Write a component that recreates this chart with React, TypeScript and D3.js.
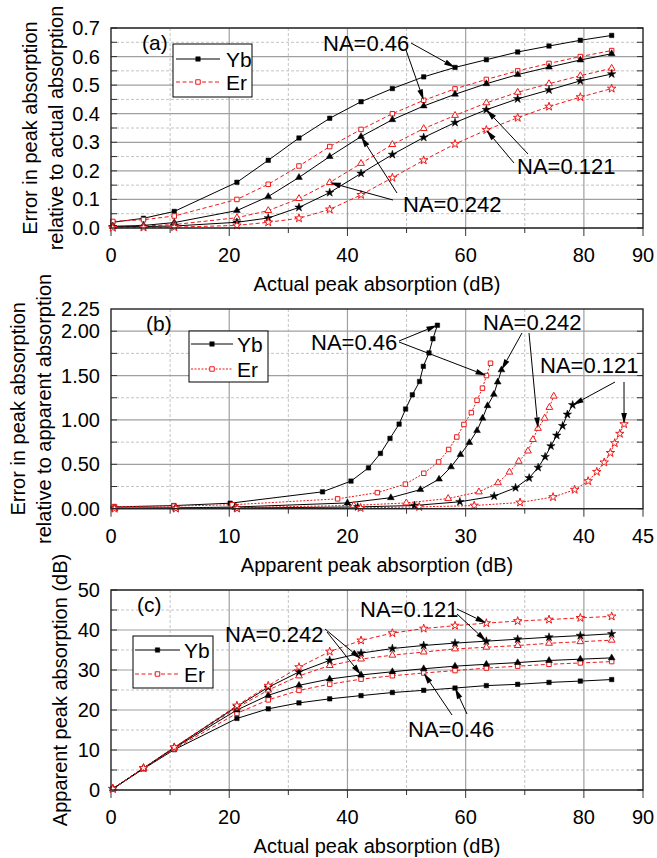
import React from 'react';
import * as d3 from 'd3';

const FONT = '"Liberation Sans", Arial, Helvetica, sans-serif';

// ---------- data ----------
const actualAbs = [0.3, 5.5, 10.7, 21.3, 26.6, 31.8, 37, 42.3, 47.6, 52.9, 58.2, 63.5, 68.8, 74.1, 79.4, 84.7];

// (a) error relative to actual absorption
const errActYb046 = [0.020, 0.034, 0.058, 0.160, 0.237, 0.315, 0.384, 0.442, 0.488, 0.529, 0.562, 0.589, 0.616, 0.637, 0.657, 0.674];
const errActEr046 = [0.023, 0.029, 0.042, 0.100, 0.153, 0.217, 0.285, 0.345, 0.400, 0.447, 0.487, 0.520, 0.550, 0.576, 0.600, 0.621];
const errActYb0242 = [0.006, 0.009, 0.019, 0.061, 0.110, 0.177, 0.250, 0.320, 0.379, 0.427, 0.468, 0.505, 0.537, 0.563, 0.588, 0.610];
const errActEr0242 = [0.005, 0.007, 0.012, 0.036, 0.061, 0.103, 0.159, 0.226, 0.292, 0.348, 0.394, 0.438, 0.475, 0.505, 0.533, 0.559];
const errActYb0121 = [0.004, 0.005, 0.007, 0.020, 0.035, 0.072, 0.124, 0.191, 0.257, 0.317, 0.369, 0.414, 0.452, 0.483, 0.515, 0.539];
const errActEr0121 = [0.001, 0.002, 0.003, 0.009, 0.020, 0.034, 0.065, 0.116, 0.176, 0.237, 0.294, 0.343, 0.386, 0.425, 0.458, 0.488];

// apparent peak absorption (dB)
const appYb046 = [0.29, 5.31, 10.08, 17.89, 20.30, 21.78, 22.79, 23.60, 24.37, 24.92, 25.49, 26.10, 26.42, 26.90, 27.23, 27.61];
const appEr046 = [0.29, 5.34, 10.25, 19.17, 22.53, 24.90, 26.46, 27.71, 28.56, 29.25, 29.85, 30.48, 30.96, 31.42, 31.76, 32.10];
const appYb0242 = [0.30, 5.45, 10.50, 20.00, 23.67, 26.17, 27.75, 28.76, 29.56, 30.31, 30.96, 31.43, 31.85, 32.38, 32.71, 33.03];
const appEr0242 = [0.30, 5.46, 10.57, 20.53, 24.98, 28.52, 31.12, 32.74, 33.70, 34.49, 35.27, 35.69, 36.12, 36.68, 37.08, 37.45];
const appYb0121 = [0.30, 5.47, 10.63, 20.87, 25.67, 29.51, 32.41, 34.22, 35.37, 36.13, 36.72, 37.21, 37.70, 38.20, 38.60, 39.05];
const appEr0121 = [0.30, 5.49, 10.67, 21.11, 26.07, 30.72, 34.60, 37.39, 39.22, 40.36, 41.09, 41.72, 42.24, 42.61, 43.04, 43.40];

// (b) error relative to apparent absorption
const errAppYb046 = [0.020, 0.035, 0.062, 0.190, 0.311, 0.460, 0.623, 0.792, 0.953, 1.123, 1.283, 1.433, 1.604, 1.755, 1.915, 2.067];
const errAppEr046 = [0.024, 0.030, 0.044, 0.111, 0.181, 0.277, 0.399, 0.527, 0.667, 0.808, 0.949, 1.083, 1.222, 1.358, 1.500, 1.639];
const errAppYb0242 = [0.006, 0.009, 0.019, 0.065, 0.124, 0.215, 0.333, 0.471, 0.610, 0.745, 0.880, 1.020, 1.160, 1.288, 1.427, 1.564];
const errAppEr0242 = [0.005, 0.007, 0.012, 0.037, 0.065, 0.115, 0.189, 0.292, 0.412, 0.534, 0.650, 0.779, 0.905, 1.020, 1.141, 1.268];
const errAppYb0121 = [0.004, 0.005, 0.007, 0.020, 0.036, 0.078, 0.142, 0.236, 0.346, 0.464, 0.585, 0.706, 0.825, 0.934, 1.062, 1.169];
const errAppEr0121 = [0.001, 0.002, 0.003, 0.009, 0.020, 0.035, 0.070, 0.131, 0.214, 0.311, 0.416, 0.522, 0.629, 0.739, 0.845, 0.953];

// ticks
const xTicksActual = [0, 20, 40, 60, 80, 90];
const xMinorActual = [10, 30, 50, 70];
const xGridActual = [20, 40, 60, 80];
const yTicksA = [0, 0.1, 0.2, 0.3, 0.4, 0.5, 0.6, 0.7];
const yMinorA = [0.05, 0.15, 0.25, 0.35, 0.45, 0.55, 0.65];
const xTicksB = [0, 10, 20, 30, 40, 45];
const xMinorB = [5, 15, 25, 35];
const xGridB = [10, 20, 30, 40];
const yTicksB = [0, 0.5, 1.0, 1.5, 2.0, 2.25];
const yMajorB = [0, 0.5, 1.0, 1.5, 2.0];
const yMinorB = [0.25, 0.75, 1.25, 1.75];
const yTicksC = [0, 10, 20, 30, 40, 50];
const yMinorC = [5, 15, 25, 35, 45];

const legendNames = ['Yb', 'Er'];

// ---------- layout ----------
const L = 111;
const R = 643;
const RED = '#f01818';

type Shape = 'square' | 'triangle' | 'star';
type SeriesCfg = { xs: number[]; ys: number[]; er: boolean; shape: Shape };
type ArrowCfg = { fx: number; fy: number; s: number; i: number };
type LabelCfg = { text: string; x: number; y: number; arrows: ArrowCfg[] };

function symbolPath(shape: Shape) {
  const t = shape === 'square' ? d3.symbolSquare : shape === 'triangle' ? d3.symbolTriangle : d3.symbolStar;
  const size = shape === 'square' ? 20 : shape === 'triangle' ? 20 : 22;
  return d3.symbol().type(t).size(size)() as string;
}

function Arrow({ x1, y1, x2, y2 }: { x1: number; y1: number; x2: number; y2: number }) {
  const ang = Math.atan2(y2 - y1, x2 - x1);
  const hl = 11;
  const hw = 2.8;
  const bx = x2 - hl * Math.cos(ang);
  const by = y2 - hl * Math.sin(ang);
  const px = -Math.sin(ang) * hw;
  const py = Math.cos(ang) * hw;
  return (
    <g>
      <line x1={x1} y1={y1} x2={bx} y2={by} stroke="#000" strokeWidth={1} />
      <polygon points={`${x2},${y2} ${bx + px},${by + py} ${bx - px},${by - py}`} fill="#000" />
    </g>
  );
}

type PanelCfg = {
  top: number;
  bottom: number;
  xDomain: [number, number];
  yDomain: [number, number];
  xTicks: number[];
  xMinor: number[];
  xGrid: number[];
  yTicks: number[];
  yMajor: number[];
  yMinor: number[];
  yFmt: (v: number) => string;
  xTitle: string;
  yTitles: { text: string; x: number }[];
  tag: { text: string; x: number; y: number };
  legend: { x0: number; y0: number; x1: number; y1: number; lx0: number; lx1: number; tx: number; ys: number[] };
  erDash: string;
  series: SeriesCfg[];
  labels: LabelCfg[];
};

function Panel({ cfg }: { cfg: PanelCfg }) {
  const x = d3.scaleLinear().domain(cfg.xDomain).range([L, R]);
  const y = d3.scaleLinear().domain(cfg.yDomain).range([cfg.bottom, cfg.top]);
  const line = d3.line<number>();
  const midY = (cfg.top + cfg.bottom) / 2;
  return (
    <g>
      {/* grid */}
      {cfg.xMinor.map((v) => (
        <line key={'xm' + v} x1={x(v)} x2={x(v)} y1={cfg.top} y2={cfg.bottom} stroke="#c4c4c4" strokeDasharray="3,2" strokeWidth={1} />
      ))}
      {cfg.yMinor.map((v) => (
        <line key={'ym' + v} x1={L} x2={R} y1={y(v)} y2={y(v)} stroke="#c4c4c4" strokeDasharray="3,2" strokeWidth={1} />
      ))}
      {cfg.xGrid.map((v) => (
        <line key={'xg' + v} x1={x(v)} x2={x(v)} y1={cfg.top} y2={cfg.bottom} stroke="#a0a0a0" strokeWidth={1.2} />
      ))}
      {cfg.yMajor.map((v) => (
        <line key={'yg' + v} x1={L} x2={R} y1={y(v)} y2={y(v)} stroke="#a0a0a0" strokeWidth={1.2} />
      ))}
      {/* tick marks */}
      {cfg.yMajor.concat(cfg.yMinor).map((v) => (
        <g key={'yt' + v}>
          <line x1={L} x2={L + 6} y1={y(v)} y2={y(v)} stroke="#333" strokeWidth={1} />
          <line x1={R} x2={R - 6} y1={y(v)} y2={y(v)} stroke="#333" strokeWidth={1} />
        </g>
      ))}
      {cfg.xTicks.map((v) => (
        <line key={'xt' + v} x1={x(v)} x2={x(v)} y1={cfg.bottom} y2={cfg.bottom + 8} stroke="#333" strokeWidth={1} />
      ))}
      {cfg.xMinor.map((v) => (
        <line key={'xtm' + v} x1={x(v)} x2={x(v)} y1={cfg.bottom} y2={cfg.bottom + 5} stroke="#333" strokeWidth={1} />
      ))}
      {/* series lines */}
      {cfg.series.map((s, k) => (
        <path
          key={'l' + k}
          d={line(s.xs.map((xv, i) => [x(xv), y(s.ys[i])]) as any) as string}
          fill="none"
          stroke={s.er ? RED : '#000'}
          strokeWidth={1}
          strokeDasharray={s.er ? cfg.erDash : undefined}
        />
      ))}
      {/* markers */}
      {cfg.series.map((s, k) => {
        const p = symbolPath(s.shape);
        return (
          <g key={'m' + k}>
            {s.xs.map((xv, i) => (
              <path
                key={i}
                d={p}
                transform={`translate(${x(xv)},${y(s.ys[i])})`}
                fill={s.er ? '#fff' : '#000'}
                stroke={s.er ? RED : '#000'}
                strokeWidth={s.er ? 1 : 0.5}
              />
            ))}
          </g>
        );
      })}
      {/* frame */}
      <rect x={L} y={cfg.top} width={R - L} height={cfg.bottom - cfg.top} fill="none" stroke="#222" strokeWidth={1.4} />
      {/* tick labels */}
      {cfg.xTicks.map((v) => (
        <text key={'xl' + v} x={x(v)} y={cfg.bottom + 34} textAnchor="middle" fontSize={20}>
          {String(v)}
        </text>
      ))}
      {cfg.yTicks.map((v) => (
        <text key={'yl' + v} x={100} y={y(v) + 7} textAnchor="end" fontSize={20}>
          {cfg.yFmt(v)}
        </text>
      ))}
      {/* titles */}
      <text x={(L + R) / 2} y={cfg.bottom + 63} textAnchor="middle" fontSize={20}>
        {cfg.xTitle}
      </text>
      {cfg.yTitles.map((t) => (
        <text key={t.text} transform={`translate(${t.x},${midY}) rotate(-90)`} textAnchor="middle" dy="0.35em" fontSize={20}>
          {t.text}
        </text>
      ))}
      <text x={cfg.tag.x} y={cfg.tag.y} fontSize={21}>
        {cfg.tag.text}
      </text>
      {/* legend */}
      <rect x={cfg.legend.x0} y={cfg.legend.y0} width={cfg.legend.x1 - cfg.legend.x0} height={cfg.legend.y1 - cfg.legend.y0} fill="#fff" stroke="#000" strokeWidth={1} />
      {legendNames.map((n, k) => {
        const ly = cfg.legend.ys[k];
        const er = n === 'Er';
        const mx = (cfg.legend.lx0 + cfg.legend.lx1) / 2;
        return (
          <g key={n}>
            <line x1={cfg.legend.lx0} x2={cfg.legend.lx1} y1={ly} y2={ly} stroke={er ? RED : '#000'} strokeWidth={1} strokeDasharray={er ? cfg.erDash : undefined} />
            <path d={symbolPath('square')} transform={`translate(${mx},${ly})`} fill={er ? '#fff' : '#000'} stroke={er ? RED : '#000'} strokeWidth={er ? 1 : 0.5} />
            <text x={cfg.legend.tx} y={ly + 7.5} fontSize={21}>
              {n}
            </text>
          </g>
        );
      })}
      {/* annotations */}
      {cfg.labels.map((lb) => (
        <g key={lb.text}>
          {lb.arrows.map((a, k) => {
            const s = cfg.series[a.s];
            return <Arrow key={k} x1={a.fx} y1={a.fy} x2={x(s.xs[a.i])} y2={y(s.ys[a.i])} />;
          })}
          <text x={lb.x} y={lb.y} fontSize={22}>
            {lb.text}
          </text>
        </g>
      ))}
    </g>
  );
}

const seriesA: SeriesCfg[] = [
  { xs: actualAbs, ys: errActYb046, er: false, shape: 'square' },
  { xs: actualAbs, ys: errActEr046, er: true, shape: 'square' },
  { xs: actualAbs, ys: errActYb0242, er: false, shape: 'triangle' },
  { xs: actualAbs, ys: errActEr0242, er: true, shape: 'triangle' },
  { xs: actualAbs, ys: errActYb0121, er: false, shape: 'star' },
  { xs: actualAbs, ys: errActEr0121, er: true, shape: 'star' },
];
const seriesB: SeriesCfg[] = [
  { xs: appYb046, ys: errAppYb046, er: false, shape: 'square' },
  { xs: appEr046, ys: errAppEr046, er: true, shape: 'square' },
  { xs: appYb0242, ys: errAppYb0242, er: false, shape: 'triangle' },
  { xs: appEr0242, ys: errAppEr0242, er: true, shape: 'triangle' },
  { xs: appYb0121, ys: errAppYb0121, er: false, shape: 'star' },
  { xs: appEr0121, ys: errAppEr0121, er: true, shape: 'star' },
];
const seriesC: SeriesCfg[] = [
  { xs: actualAbs, ys: appYb046, er: false, shape: 'square' },
  { xs: actualAbs, ys: appEr046, er: true, shape: 'square' },
  { xs: actualAbs, ys: appYb0242, er: false, shape: 'triangle' },
  { xs: actualAbs, ys: appEr0242, er: true, shape: 'triangle' },
  { xs: actualAbs, ys: appYb0121, er: false, shape: 'star' },
  { xs: actualAbs, ys: appEr0121, er: true, shape: 'star' },
];

const panels: PanelCfg[] = [
  {
    top: 28,
    bottom: 228,
    xDomain: [0, 90],
    yDomain: [0, 0.7],
    xTicks: xTicksActual,
    xMinor: xMinorActual,
    xGrid: xGridActual,
    yTicks: yTicksA,
    yMajor: yTicksA,
    yMinor: yMinorA,
    yFmt: d3.format('.1f'),
    xTitle: 'Actual peak absorption (dB)',
    yTitles: [
      { text: 'Error in peak absorption', x: 30 },
      { text: 'relative to actual absorption', x: 56 },
    ],
    tag: { text: '(a)', x: 142, y: 50 },
    legend: { x0: 173, y0: 44, x1: 252, y1: 97, lx0: 176, lx1: 220, tx: 226, ys: [59, 82] },
    erDash: '4,2.5',
    series: seriesA,
    labels: [
      { text: 'NA=0.46', x: 323, y: 50.5, arrows: [{ fx: 411, fy: 43, s: 0, i: 10 }, { fx: 406, fy: 50, s: 1, i: 9 }] },
      { text: 'NA=0.242', x: 403, y: 212, arrows: [{ fx: 397, fy: 193, s: 2, i: 7 }, { fx: 393, fy: 200, s: 3, i: 6 }] },
      { text: 'NA=0.121', x: 517, y: 174, arrows: [{ fx: 528, fy: 154, s: 4, i: 11 }, { fx: 514, fy: 163, s: 5, i: 11 }] },
    ],
  },
  {
    top: 309,
    bottom: 508.7,
    xDomain: [0, 45],
    yDomain: [0, 2.25],
    xTicks: xTicksB,
    xMinor: xMinorB,
    xGrid: xGridB,
    yTicks: yTicksB,
    yMajor: yMajorB,
    yMinor: yMinorB,
    yFmt: d3.format('.2f'),
    xTitle: 'Apparent peak absorption (dB)',
    yTitles: [
      { text: 'Error in peak absorption', x: 18 },
      { text: 'relative to apparent absorption', x: 44 },
    ],
    tag: { text: '(b)', x: 146, y: 331 },
    legend: { x0: 189, y0: 331, x1: 268, y1: 382, lx0: 191, lx1: 233, tx: 237, ys: [344, 369] },
    erDash: '2,1.5',
    series: seriesB,
    labels: [
      { text: 'NA=0.46', x: 311, y: 350, arrows: [{ fx: 399, fy: 341, s: 0, i: 15 }, { fx: 399, fy: 342, s: 1, i: 14 }] },
      { text: 'NA=0.242', x: 483, y: 330, arrows: [{ fx: 522, fy: 333, s: 2, i: 15 }, { fx: 529, fy: 333, s: 3, i: 12 }] },
      { text: 'NA=0.121', x: 540, y: 373, arrows: [{ fx: 615, fy: 382, s: 4, i: 15 }, { fx: 624, fy: 382, s: 5, i: 15 }] },
    ],
  },
  {
    top: 590,
    bottom: 790,
    xDomain: [0, 90],
    yDomain: [0, 50],
    xTicks: xTicksActual,
    xMinor: xMinorActual,
    xGrid: xGridActual,
    yTicks: yTicksC,
    yMajor: yTicksC,
    yMinor: yMinorC,
    yFmt: d3.format('d'),
    xTitle: 'Actual peak absorption (dB)',
    yTitles: [{ text: 'Apparent peak absorption (dB)', x: 60 }],
    tag: { text: '(c)', x: 137, y: 612 },
    legend: { x0: 133, y0: 636, x1: 213, y1: 688, lx0: 135, lx1: 180, tx: 184, ys: [650, 674] },
    erDash: '4,2.5',
    series: seriesC,
    labels: [
      { text: 'NA=0.121', x: 360, y: 617, arrows: [{ fx: 457, fy: 609, s: 5, i: 11 }, { fx: 457, fy: 614, s: 4, i: 11 }] },
      { text: 'NA=0.242', x: 225, y: 641.5, arrows: [{ fx: 325, fy: 629, s: 3, i: 7 }, { fx: 327, fy: 632, s: 2, i: 7 }] },
      { text: 'NA=0.46', x: 408, y: 737, arrows: [{ fx: 452, fy: 715, s: 1, i: 9 }, { fx: 467, fy: 714, s: 0, i: 10 }] },
    ],
  },
];

export default function App() {
  return (
    <svg width={657} height={858} style={{ position: 'absolute', left: 0, top: 0 }} fontFamily={FONT}>
      <rect x={0} y={0} width={657} height={858} fill="#fff" />
      {panels.map((p, k) => (
        <Panel key={k} cfg={p} />
      ))}
    </svg>
  );
}
